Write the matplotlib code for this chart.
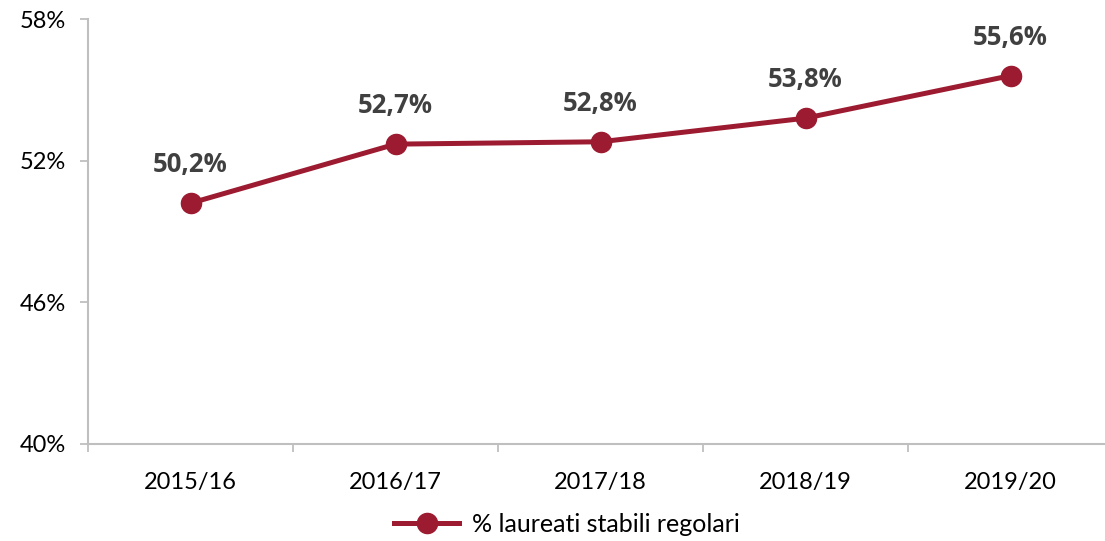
import matplotlib
matplotlib.use('Agg')
import matplotlib.pyplot as plt

plt.rcParams['font.family'] = ['Lato', 'DejaVu Sans']

years = ['2015/16', '2016/17', '2017/18', '2018/19', '2019/20']
values = [50.2, 52.7, 52.8, 53.8, 55.6]
yticks = [40, 46, 52, 58]

RED = '#9C1B30'
GRID = '#BFBFBF'

fig = plt.figure(figsize=(11.05, 5.41), dpi=100)
# axis runs from x=88 to 1113 px, y from 444 to 19 px
ax = fig.add_axes([88 / 1105, (541 - 444) / 541, 1025 / 1105, 425 / 541])

x = list(range(len(years)))
ax.plot(x, values, color=RED, lw=3.6, marker='o', ms=14.5, zorder=3,
        label='% laureati stabili regolari')
for xi, v in zip(x, values):
    ax.annotate(f'{v:.1f}%'.replace('.', ','), (xi, v), xytext=(0, 18),
                textcoords='offset points', ha='center', va='bottom',
                fontsize=18.5, fontweight='bold', color='#404040',
                family=['Open Sans', 'DejaVu Sans'])

ax.set_xlim(-0.5, 4.5)
ax.set_ylim(40, 58)
ax.set_yticks(yticks)
ax.set_yticklabels([f'{t}%' for t in yticks])
ax.set_xticks(x)
ax.set_xticklabels(years)
ax.set_xticks([i + 0.5 for i in range(-1, 5)], minor=True)
ax.tick_params(axis='x', which='major', length=0, pad=20, labelsize=17)
ax.tick_params(axis='x', which='minor', length=6, width=1.3, color=GRID, direction='out')
ax.tick_params(axis='y', length=6, width=1.3, color=GRID, labelsize=17, pad=10)

for s in ['top', 'right']:
    ax.spines[s].set_visible(False)
for s in ['left', 'bottom']:
    ax.spines[s].set_color(GRID)
    ax.spines[s].set_linewidth(1.5)

fig.legend(loc='center', bbox_to_anchor=(567 / 1105, 1 - 524 / 541), frameon=False,
           fontsize=18, handlelength=2.6, handletextpad=0.5)

fig.savefig('out.png', dpi=100)
